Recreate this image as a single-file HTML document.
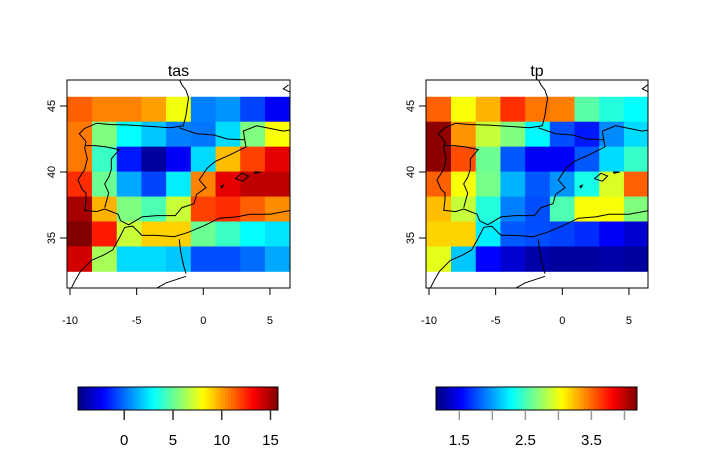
<!DOCTYPE html>
<html><head><meta charset="utf-8">
<style>
body{margin:0;background:#fff;}
svg{display:block;font-family:"Liberation Sans",sans-serif;}
</style></head>
<body>
<svg id="c" width="716" height="470" xmlns="http://www.w3.org/2000/svg"></svg>
<script>
// ---- data ----
const tasValues = [
 [11.3,10.6,10.6,10.0,7.8,0.4,0.8,-0.8,-2.3],
 [10.8,5.5,3.0,1.8,0.4,0.2,2.2,5.5,8.0],
 [10.8,4.1,-1.7,-4.1,-2.3,2.2,9.4,11.9,13.7],
 [12.3,5.1,1.2,-0.8,2.6,10.6,13.7,14.5,14.5],
 [15.0,9.6,5.5,4.5,7.0,11.9,12.3,11.3,10.4],
 [15.7,12.7,7.0,9.0,9.0,5.1,4.1,3.0,2.4],
 [14.1,6.3,2.2,2.2,1.8,-0.6,-0.6,0.0,1.2]
];
const tpValues = [
 [3.52,3.03,3.28,3.67,3.46,3.43,2.55,2.39,2.29],
 [4.15,3.37,2.88,2.67,2.27,1.76,1.60,1.94,2.18],
 [4.15,3.58,2.61,1.79,1.51,1.51,1.79,2.18,2.45],
 [3.52,3.03,2.64,2.06,1.79,1.97,2.36,2.94,3.52],
 [3.24,2.88,2.39,1.91,1.76,2.52,3.03,3.03,2.67],
 [3.18,3.18,2.24,1.79,1.76,1.72,1.66,1.51,1.39],
 [2.97,2.12,1.53,1.39,1.27,1.24,1.24,1.27,1.24]
];
const xTicks = [-10,-5,0,5];
const yTicks = [45,40,35];
const tasBarTicks = [0,5,10,15];
const tpBarTicks = [1.5,2.0,2.5,3.0,3.5,4.0];
const tpBarLabels = ["1.5","","2.5","","3.5",""];
const tasRange = [-4.74,15.77];
const tpRange = [1.147,4.19];
const lonStart = -10.2, lonStep = 1.853, latTop = 45.7, latStep = 1.89;

const coastIberia = [[-1.9,47.2],[-1.6,46.6],[-1.3,46.2],[-1.1,45.6],[-1.2,45.0],[-1.3,44.3],[-1.5,43.5],[-2.5,43.35],[-3.8,43.45],[-5.5,43.55],[-7,43.6],[-8.0,43.7],[-8.9,43.3],[-9.3,42.9],[-8.8,42.3],[-8.9,41.8],[-8.7,41],[-8.9,40.2],[-9.4,39.4],[-9.1,38.7],[-8.8,38.4],[-8.8,37.9],[-8.9,37.1],[-8,37.0],[-7.4,37.2],[-6.4,36.8],[-6.2,36.3],[-5.6,36.0],[-4.6,36.6],[-3.5,36.7],[-2.1,36.7],[-1.6,37.3],[-0.7,37.6],[-0.5,38.3],[0.2,38.8],[-0.3,39.4],[0.3,40.3],[0.9,40.8],[2.0,41.3],[3.2,41.9],[3.1,42.5],[3.0,43.1],[4.0,43.5],[5.0,43.3],[6.0,43.1],[6.6,43.2]];
const coastAfrica = [[-9.9,31.2],[-9.6,31.8],[-9.2,32.5],[-8.4,33.3],[-7.5,33.7],[-6.8,34.1],[-6.3,35.0],[-5.9,35.8],[-5.3,35.9],[-4.6,35.2],[-3.5,35.2],[-2.2,35.1],[-1.2,35.4],[0,35.9],[1.2,36.5],[2.5,36.6],[3.5,36.8],[5,36.8],[6.6,37.1]];
const borders = [
 [[-1.8,43.35],[-0.5,42.9],[0.8,42.8],[1.8,42.5],[3.1,42.45]],
 [[-8.9,42.0],[-8.1,42.0],[-7.3,41.9],[-6.3,41.7],[-6.9,41.0],[-6.9,40.2],[-7.1,39.6],[-7.4,39.1],[-7.1,38.4],[-7.4,37.3]],
 [[-1.8,34.9],[-1.7,34.0],[-1.5,33.0],[-1.3,32.3]],
 [[-3.5,31.2],[-2.8,31.6],[-1.3,32.1]],
 [[6.4,46.6],[6.0,46.3],[6.6,46.0]]
];
const islands = [[[2.4,39.5],[2.9,39.9],[3.4,39.7],[3.0,39.3],[2.4,39.5]],[[1.3,38.9],[1.5,39.0],[1.4,38.8],[1.3,38.9]],[[3.8,40.0],[4.3,40.0],[3.9,39.9],[3.8,40.0]]];

// ---- helpers ----
const svg = document.getElementById('c');
const NS = 'http://www.w3.org/2000/svg';
function mk(tag, attrs, parent){const e=document.createElementNS(NS,tag);for(const k in attrs)e.setAttribute(k,attrs[k]);(parent||svg).appendChild(e);return e;}
function jet(t){t=Math.max(0,Math.min(1,t));
 const f=(x)=>Math.max(0,Math.min(1,x));
 const r=f(1.5-Math.abs(4*t-3)), g=f(1.5-Math.abs(4*t-2)), b=f(1.5-Math.abs(4*t-1));
 return `rgb(${Math.round(r*255)},${Math.round(g*255)},${Math.round(b*255)})`;}

function panel(off, box, values, range, title, name){
 const xS = lon => 70 + off + (lon + 10) * 13.33;
 const yS = lat => 172 - (lat - 40) * 13.2;
 const g = mk('g',{});
 
 
 const cid='clip'+name;
 const cp=mk('clipPath',{id:cid},g); mk('rect',{x:box[0],y:80,width:box[1]-box[0],height:208},cp);
 const cells=mk('g',{'clip-path':`url(#${cid})`},g);
 values.forEach((row,i)=>row.forEach((v,j)=>{
  const x0=xS(lonStart+j*lonStep), x1=xS(lonStart+(j+1)*lonStep);
  const y0=yS(latTop-i*latStep), y1=yS(latTop-(i+1)*latStep);
  const r=mk('rect',{x:x0,y:y0,width:x1-x0+0.4,height:y1-y0+0.4,fill:jet((v-range[0])/(range[1]-range[0]))},cells);
  
  
 }));
 const pts=a=>a.map(p=>xS(p[0]).toFixed(1)+','+yS(p[1]).toFixed(1)).join(' ');
 [coastIberia,coastAfrica,...borders,...islands].forEach(l=>{
  const p=mk('polyline',{points:pts(l),fill:'none',stroke:'#000','stroke-width':1},cells);
  
  
 });
 const fr=mk('rect',{x:box[0],y:80,width:box[1]-box[0],height:208,fill:'none',stroke:'#000','stroke-width':1},g);
 
 
 xTicks.forEach(t=>{const x=xS(t);
  mk('line',{x1:x,x2:x,y1:288,y2:295,stroke:'#000'},g);
  const tx=mk('text',{x:x,y:324,'font-size':11,'text-anchor':'middle'},g);tx.textContent=t;
  
  });
 yTicks.forEach(t=>{const y=yS(t);
  mk('line',{x1:box[0]-7,x2:box[0],y1:y,y2:y,stroke:'#000'},g);
  const tx=mk('text',{x:box[0]-12,y:y,'font-size':11,'text-anchor':'middle',transform:`rotate(-90 ${box[0]-12} ${y})`},g);tx.textContent=t;
  
  });
 const tt=mk('text',{x:(box[0]+box[1])/2,y:76,'font-size':16,'text-anchor':'middle'},g);tt.textContent=title;
 
 
}
function colorbar(x0,x1,range,ticks,labels,name,tickColor){
 const g=mk('g',{});
 
 
 const n=64,w=(x1-x0)/n;
 for(let i=0;i<n;i++) mk('rect',{x:x0+i*w,y:387,width:w+0.5,height:23,fill:jet((i+0.5)/n)},g);
 mk('rect',{x:x0,y:387,width:x1-x0,height:23,fill:'none',stroke:'#000'},g);
 const s=v=>x0+(v-range[0])/(range[1]-range[0])*(x1-x0);
 ticks.forEach((t,i)=>{const x=s(t);
  mk('line',{x1:x,x2:x,y1:410,y2:420,stroke:tickColor,'stroke-width':1.5},g);
  if(labels[i]!==''){const tx=mk('text',{x:x,y:445,'font-size':15,'text-anchor':'middle'},g);tx.textContent=labels[i];
   
   }
 });
}
panel(0,[67,290],tasValues,tasRange,'tas','tas');
panel(359,[426,648],tpValues,tpRange,'tp','tp');
colorbar(78,278,tasRange,tasBarTicks,tasBarTicks.map(String),'tas','#333');
colorbar(436,637,tpRange,tpBarTicks,tpBarLabels,'tp','#999');
</script>
</body></html>
